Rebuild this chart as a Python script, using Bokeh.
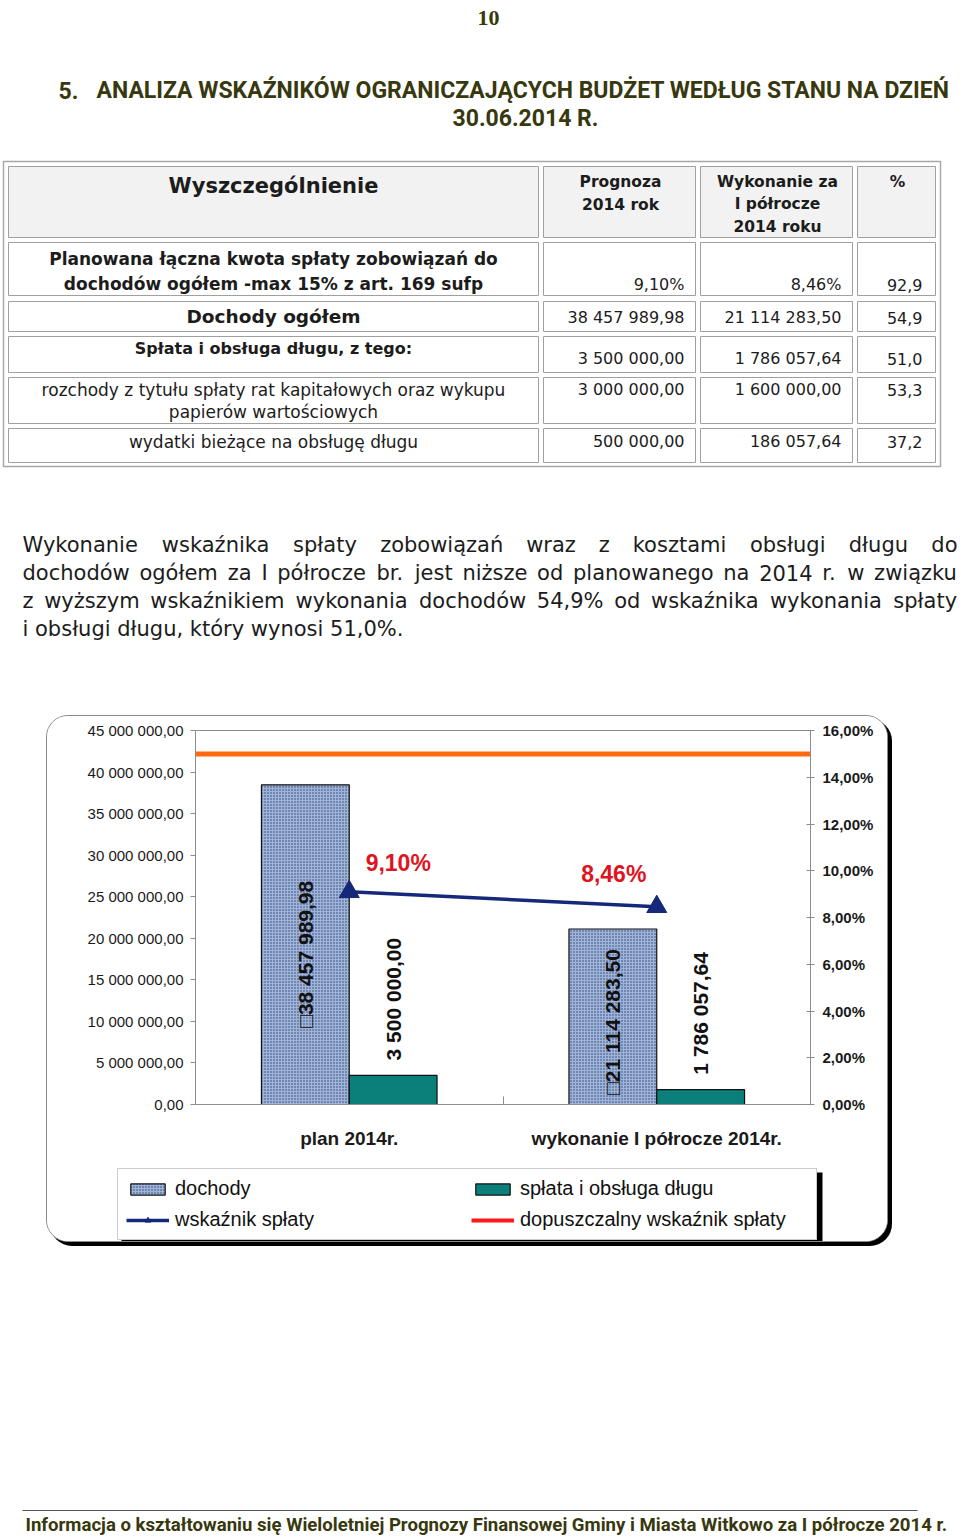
import math
from bokeh.plotting import figure
from bokeh.models import (ColumnDataSource, Range1d, LinearAxis, FixedTicker,
                          Legend, LegendItem, BoxAnnotation)
from bokeh.transform import dodge
from bokeh.core.properties import value
from bokeh.embed import file_html
from bokeh.resources import INLINE

# ------------------------------------------------------------------ data
page_number = "10"
heading_num = "5."
heading_line1 = "ANALIZA WSKAŹNIKÓW OGRANICZAJĄCYCH  BUDŻET WEDŁUG STANU NA DZIEŃ"
heading_line2 = "30.06.2014 R."

header_col1 = ["Wyszczególnienie"]
header_col2 = ["Prognoza", "2014 rok"]
header_col3 = ["Wykonanie za", "I półrocze", "2014 roku"]
header_col4 = ["%"]

row_labels = [
    ["Planowana łączna kwota spłaty zobowiązań do", "dochodów ogółem -max 15% z art. 169 sufp"],
    ["Dochody ogółem"],
    ["Spłata i obsługa długu, z tego:"],
    ["rozchody z tytułu spłaty rat kapitałowych oraz wykupu", "papierów wartościowych"],
    ["wydatki bieżące na obsługę długu"],
]
row_plan = ["9,10%", "38 457 989,98", "3 500 000,00", "3 000 000,00", "500 000,00"]
row_exec = ["8,46%", "21 114 283,50", "1 786 057,64", "1 600 000,00", "186 057,64"]
row_pct = ["92,9", "54,9", "51,0", "53,3", "37,2"]

para_lines = [
    "Wykonanie wskaźnika spłaty zobowiązań wraz z kosztami obsługi długu do",
    "dochodów ogółem za I półrocze br. jest niższe od planowanego na 2014 r. w związku",
    "z wyższym wskaźnikiem wykonania dochodów 54,9% od wskaźnika wykonania spłaty",
    "i obsługi długu, który wynosi 51,0%.",
]

categories = ["plan 2014r.", "wykonanie I półrocze 2014r."]
dochody = [38457989.98, 21114283.50]
splata = [3500000.00, 1786057.64]
wskaznik = [9.10, 8.46]
limit_pct = 15.0
dochody_labels = ["\u25a138 457 989,98", "\u25a121 114 283,50"]
splata_labels = ["3 500 000,00", "1 786 057,64"]
wskaznik_labels = ["9,10%", "8,46%"]

money_ticks = [0, 5000000, 10000000, 15000000, 20000000, 25000000, 30000000, 35000000, 40000000, 45000000]
money_tick_labels = ["0,00", "5 000 000,00", "10 000 000,00", "15 000 000,00", "20 000 000,00",
                     "25 000 000,00", "30 000 000,00", "35 000 000,00", "40 000 000,00", "45 000 000,00"]
pct_ticks = [0, 2, 4, 6, 8, 10, 12, 14, 16]
pct_tick_labels = ["0,00%", "2,00%", "4,00%", "6,00%", "8,00%", "10,00%", "12,00%", "14,00%", "16,00%"]
legend_labels = ["dochody", "spłata i obsługa długu", "wskaźnik spłaty", "dopuszczalny wskaźnik spłaty"]

footer_text = ("Informacja o kształtowaniu się Wieloletniej Prognozy Finansowej Gminy i Miasta "
               "Witkowo za I półrocze 2014 r.")

# ------------------------------------------------------------------ styles
OLIVE = "#38380e"
TXT = "#1c1c1c"
BODY = "DejaVu Sans"
HEAD = "Roboto"
ARIAL = "Liberation Sans"

# approximate DejaVu Sans advance widths (units of 1/2048 em), used to justify lines
DV = {" ": 651, "a": 1255, "b": 1300, "c": 1126, "d": 1300, "e": 1260, "f": 721, "g": 1300,
      "h": 1298, "i": 569, "j": 569, "k": 1186, "l": 569, "m": 1995, "n": 1298, "o": 1253,
      "p": 1300, "q": 1300, "r": 842, "s": 1067, "t": 803, "u": 1298, "v": 1212, "w": 1675,
      "x": 1212, "y": 1212, "z": 1075, "ł": 620, "ó": 1253, "ą": 1255, "ż": 1075, "ź": 1075,
      "ę": 1260, "ś": 1067, "ć": 1126, "ń": 1298, "I": 604, "W": 2025, ",": 651, ".": 651,
      "%": 1946}


def dv_width(s, size):
    return sum(DV.get(c, 1303) for c in s) / 2048.0 * size


def canvas(w, h, x0, y0):
    p = figure(width=w, height=h, x_range=Range1d(x0, x0 + w), y_range=Range1d(y0 + h, y0),
               x_axis_type=None, y_axis_type=None, output_backend="svg",
               toolbar_location=None, min_border=0)
    p.outline_line_color = None
    p.background_fill_color = "white"
    p.border_fill_color = "white"
    return p


def put(p, x, y, txt, font=BODY, size=16, style="normal", align="left", color=TXT):
    p.text(x=[x], y=[y], text=[txt], text_font=value(font), text_font_size=f"{size}px",
           text_font_style=style, text_align=align, text_baseline="middle", text_color=color)


# ------------------------------------------------------------------ top part
top = canvas(960, 715, 0, 0)

put(top, 488, 17, page_number, font="Liberation Serif", size=22, style="bold", align="center", color=OLIVE)
put(top, 58, 90, heading_num, font=HEAD, size=23, style="bold", color=OLIVE)
put(top, 96, 90, heading_line1, font=HEAD, size=23, style="bold", color=OLIVE)
put(top, 525, 118, heading_line2, font=HEAD, size=23, style="bold", align="center", color=OLIVE)

col_x = [(8, 538), (543, 695), (700, 852), (857, 935)]
row_y = [(166, 237), (242, 295), (301, 331), (336, 372), (377, 423), (428, 462)]
top.quad(left=[3], right=[940], top=[161], bottom=[466], fill_color="white",
         line_color="#a8a8a8", line_width=1.5)
for ri, (y0, y1) in enumerate(row_y):
    top.quad(left=[c[0] for c in col_x], right=[c[1] for c in col_x],
             top=[y0] * 4, bottom=[y1] * 4,
             fill_color="#f2f2f2" if ri == 0 else "white",
             line_color="#a0a0a0", line_width=1)

put(top, 273, 185, header_col1[0], size=21, style="bold", align="center")
for i, t in enumerate(header_col2):
    put(top, 620, 181 + 23 * i, t, size=15.5, style="bold", align="center")
for i, t in enumerate(header_col3):
    put(top, 777, 181 + 22.5 * i, t, size=15.5, style="bold", align="center")
put(top, 897, 181, header_col4[0], size=15.5, style="bold", align="center")

label_y = [[258, 283], [316], [348], [389, 411], [441]]
label_style = [("bold", 17), ("bold", 18.5), ("bold", 16), ("normal", 17), ("normal", 17)]
value_y = [284, 317, 358, 389, 441]
for i in range(len(row_labels)):
    st, sz = label_style[i]
    for t, yy in zip(row_labels[i], label_y[i]):
        put(top, 273, yy, t, size=sz, style=st, align="center")
    put(top, 684, value_y[i], row_plan[i], size=16, align="right")
    put(top, 841, value_y[i], row_exec[i], size=16, align="right")
    put(top, 922, value_y[i], row_pct[i], size=16, align="right")

# paragraph: first three lines justified between x=22 and x=957
PARA_SIZE = 21
for li, line in enumerate(para_lines):
    yy = 544 + 28 * li
    if li == len(para_lines) - 1:
        put(top, 22, yy, line, size=PARA_SIZE)
        continue
    words = line.split(" ")
    natural = sum(dv_width(w, PARA_SIZE) for w in words)
    gap = (957 - 22 - natural) / (len(words) - 1)
    xx = 22.0
    for w in words:
        put(top, xx, yy, w, size=PARA_SIZE)
        xx += dv_width(w, PARA_SIZE) + gap

# ------------------------------------------------------------------ chart
# pixel geometry of the chart box (canvas) and of its plot area
CV_L, CV_R, CV_T, CV_B = 47, 889, 716, 1243
PL_L, PL_R, PL_T, PL_B = 195, 810, 730, 1104
ncat = len(categories)
kx = ncat / (PL_R - PL_L)                 # data units per pixel, x
ky = money_ticks[-1] / (PL_B - PL_T)      # money per pixel
kp = pct_ticks[-1] / (PL_B - PL_T)        # percent per pixel


def X(px):
    return (px - PL_L) * kx


def Y(py):
    return (PL_B - py) * ky


src = ColumnDataSource(dict(
    xc=[i + 0.5 for i in range(ncat)], dochody=dochody, splata=splata, wsk=wskaznik,
    doch_mid=[v * 0.47 for v in dochody],
    doch_lab=dochody_labels, spl_lab=splata_labels, wsk_lab=wskaznik_labels,
    wdx=[49, -43], wdy=[-29, -33],
))

ch = figure(width=CV_R - CV_L, height=CV_B - CV_T,
            x_range=Range1d(X(CV_L), X(CV_R)), y_range=Range1d(Y(CV_B), Y(CV_T)),
            output_backend="svg", toolbar_location=None, min_border=0,
            x_axis_type=None, y_axis_type=None)
ch.extra_y_ranges = {"pct": Range1d((PL_B - CV_B) * kp, (PL_B - CV_T) * kp)}
ch.outline_line_color = None
ch.background_fill_color = "white"
ch.border_fill_color = "white"
ch.styles = {"border": "1px solid #8a8a8a", "border-radius": "22px", "overflow": "hidden",
             "box-shadow": "4px 4px 0px #000000", "background-color": "white"}
ch.margin = (0, 0, 0, 46)

# top edge of the plot area
ch.segment(x0=[0], y0=[money_ticks[-1]], x1=[ncat], y1=[money_ticks[-1]],
           line_color="#8c8c8c", line_width=1)

ya = LinearAxis(ticker=FixedTicker(ticks=money_ticks), fixed_location=0,
                bounds=(money_ticks[0], money_ticks[-1]))
ya.major_label_overrides = dict(zip(money_ticks, money_tick_labels))
ya.major_label_text_font = ARIAL
ya.major_label_text_font_size = "15px"
ya.major_label_text_color = "#1a1a1a"
ya.axis_line_color = "#8c8c8c"
ya.major_tick_line_color = "#8c8c8c"
ya.major_tick_in = 0
ya.major_tick_out = 5
ya.minor_tick_line_color = None
ya.major_label_standoff = 7
ch.add_layout(ya, "left")

yr = LinearAxis(y_range_name="pct", ticker=FixedTicker(ticks=pct_ticks), fixed_location=ncat,
                bounds=(pct_ticks[0], pct_ticks[-1]))
yr.major_label_overrides = dict(zip(pct_ticks, pct_tick_labels))
yr.major_label_text_font = ARIAL
yr.major_label_text_font_style = "bold"
yr.major_label_text_font_size = "15px"
yr.major_label_text_color = "#1a1a1a"
yr.axis_line_color = "#8c8c8c"
yr.major_tick_line_color = "#8c8c8c"
yr.major_tick_in = 4
yr.major_tick_out = 4
yr.minor_tick_line_color = None
yr.major_label_standoff = 8
ch.add_layout(yr, "right")

cat_ticks = [i + 0.5 for i in range(ncat)]
xa = LinearAxis(ticker=FixedTicker(ticks=cat_ticks, minor_ticks=list(range(1, ncat))),
                fixed_location=0, bounds=(0, ncat))
xa.major_label_overrides = dict(zip(cat_ticks, categories))
xa.major_label_text_font = ARIAL
xa.major_label_text_font_style = "bold"
xa.major_label_text_font_size = "19px"
xa.major_label_text_color = "#1a1a1a"
xa.axis_line_color = "#8c8c8c"
xa.major_tick_line_color = None
xa.minor_tick_line_color = "#8c8c8c"
xa.minor_tick_in = 8
xa.minor_tick_out = 0
xa.major_label_standoff = 17
ch.add_layout(xa, "below")

BW = 0.2855
r_doch = ch.vbar(x=dodge("xc", -BW / 2), top="dochody", width=BW, source=src,
                 fill_color="#9fb4d8", line_color="#111111", line_width=1.2,
                 hatch_pattern="dot", hatch_color="#2a4373", hatch_scale=3, hatch_weight=1.5)
r_spl = ch.vbar(x=dodge("xc", BW / 2), top="splata", width=BW, source=src,
                fill_color="#0b7f7a", line_color="#111111", line_width=1.2)

# permitted ratio: red (legend colour) underneath, orange on top as in the chart
r_lim = ch.line(x=[0, ncat], y=[limit_pct, limit_pct], y_range_name="pct",
                line_color="#ff1a1a", line_width=4)
ch.line(x=[0, ncat], y=[limit_pct, limit_pct], y_range_name="pct",
        line_color="#ff6a10", line_width=5)

r_line = ch.line(x="xc", y="wsk", source=src, y_range_name="pct", line_color="#16287a", line_width=3.5)
r_tri = ch.scatter(x="xc", y="wsk", source=src, y_range_name="pct", marker="triangle", size=20,
                   fill_color="#16287a", line_color="#16287a")

ch.text(x=dodge("xc", -BW / 2), y="doch_mid", text="doch_lab", source=src,
        angle=math.pi / 2, text_align="center", text_baseline="middle",
        text_font=value(ARIAL), text_font_style="bold", text_font_size="21px", text_color="#111111")
ch.text(x=dodge("xc", BW / 2), y="splata", text="spl_lab", source=src,
        angle=math.pi / 2, text_align="left", text_baseline="middle", y_offset=-15,
        text_font=value(ARIAL), text_font_style="bold", text_font_size="21px", text_color="#111111")
ch.text(x="xc", y="wsk", text="wsk_lab", source=src, y_range_name="pct",
        x_offset="wdx", y_offset="wdy", text_align="center", text_baseline="middle",
        text_font=value(ARIAL), text_font_style="bold", text_font_size="23px", text_color="#e0141e")

# legend with its drop shadow
LG_L, LG_R, LG_T, LG_B = 117, 818, 1168, 1240
ch.add_layout(BoxAnnotation(left=X(LG_L + 4), right=X(LG_R + 4), top=Y(LG_T + 4), bottom=Y(LG_B + 4),
                            fill_color="#000000", fill_alpha=1.0, line_color=None))
legend = Legend(items=[
    LegendItem(label=legend_labels[0], renderers=[r_doch]),
    LegendItem(label=legend_labels[2], renderers=[r_line, r_tri]),
    LegendItem(label=legend_labels[1], renderers=[r_spl]),
    LegendItem(label=legend_labels[3], renderers=[r_lim]),
], location=(LG_L - CV_L, CV_B - LG_B), ncols=2)
legend.label_text_font = ARIAL
legend.label_text_font_size = "20px"
legend.label_text_color = "#111111"
legend.glyph_width = 43
legend.glyph_height = 14
legend.label_standoff = 6
legend.padding = 8
legend.spacing = 8
legend.margin = 0
legend.label_width = 288
legend.border_line_color = "#9a9a9a"
legend.background_fill_color = "white"
legend.background_fill_alpha = 1.0
ch.add_layout(legend)

# ------------------------------------------------------------------ footer
bottom = canvas(960, 289, 0, 1248)
bottom.margin = (4, 0, 0, 0)
bottom.segment(x0=[22], y0=[1512], x1=[917], y1=[1512], line_color="#555555", line_width=1)
put(bottom, 25, 1526, footer_text, font=HEAD, size=18.6, style="bold", color=OLIVE)

open("out.html", "w").write(file_html([top, ch, bottom], INLINE))
